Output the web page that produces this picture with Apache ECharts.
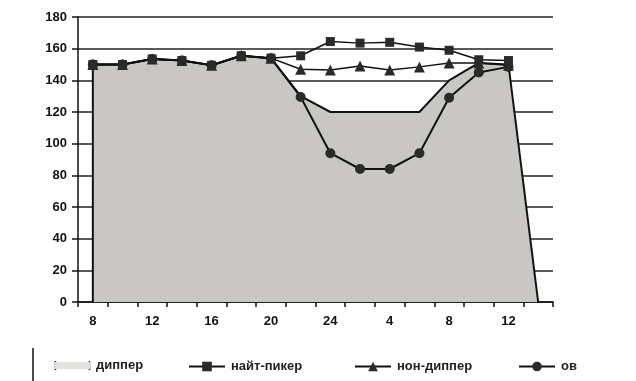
<!DOCTYPE html>
<html>
<head>
<meta charset="utf-8">
<script src="https://cdn.jsdelivr.net/npm/echarts@6/dist/echarts.min.js"></script>
<style>html,body{margin:0;padding:0;background:#fff}#c{width:636px;height:381px}</style>
</head>
<body>
<div id="c"></div>
<script>
// Categories (hours)
const hours = ['8','10','12','14','16','18','20','22','24','2','4','6','8','10','12','14'];
// Series values
const dipper      = [150,150,153.5,152.5,149.5,155.5,154,130,120,120,120,120,140,151,150,0];
const nightPeaker = [150,150,153.5,152.5,149.5,155.5,154,155.5,164.5,163.5,164,161,159,153,152.5,null];
const nonDipper   = [150,150,153.5,152.5,149.5,155.5,154,147,146.5,149,146.5,148.5,151,151,149.5,null];
const ov          = [150,150,153.5,152.5,149.5,155.5,154,129.5,94,84,84,94,129,145,148.5,null];
const seriesNames = ['диппер','найт-пикер','нон-диппер','ов'];

const FONT = 'Liberation Sans';
const chart = echarts.init(document.getElementById('c'), null, {renderer:'canvas'});

const dipperData = [[0,0]].concat(dipper.map((v,i)=>[i,v]));

const legendBase = {
  top: 360, padding: 0, itemWidth: 36, itemHeight: 12, itemGap: 0,
  textStyle: {fontFamily: FONT, fontSize: 13, fontWeight: 'bold', color: '#222', padding:[0,0,0,1]},
  selectedMode: false
};

chart.setOption({
  animation: false,
  backgroundColor: '#fff',
  grid: {left: 78, right: 83, top: 17, bottom: 79, containLabel: false},
  xAxis: {
    type: 'category', data: hours, boundaryGap: true,
    axisLine: {lineStyle: {color: '#111', width: 1.5}},
    axisTick: {show: true, interval: 0, length: 5, lineStyle: {color: '#111', width: 1.5}},
    axisLabel: {interval: 1, fontFamily: FONT, fontSize: 13, fontWeight: 'bold', color: '#111', margin: 13}
  },
  yAxis: {
    type: 'value', min: 0, max: 180, interval: 20,
    axisLine: {show: true, lineStyle: {color: '#111', width: 1.5}},
    axisTick: {show: true, length: 6, lineStyle: {color: '#111', width: 1.5}},
    axisLabel: {fontFamily: FONT, fontSize: 13, fontWeight: 'bold', color: '#111', margin: 11},
    splitLine: {show: true, lineStyle: {color: '#222', width: 1.5}}
  },
  legend: [
    Object.assign({}, legendBase, {left: 55, top: 359, itemWidth: 35, itemHeight: 7, data: [{name: seriesNames[0], icon: 'rect', itemStyle: {color: '#e4e2df', borderWidth: 0}}]}),
    Object.assign({}, legendBase, {left: 188, data: [seriesNames[1]]}),
    Object.assign({}, legendBase, {left: 354, data: [seriesNames[2]]}),
    Object.assign({}, legendBase, {left: 518, data: [seriesNames[3]]})
  ],
  graphic: [
    {type: 'line', shape: {x1: 33, y1: 348, x2: 33, y2: 381}, style: {stroke: '#111', lineWidth: 1.5}},
    {type: 'line', shape: {x1: 55.5, y1: 361, x2: 55.5, y2: 370}, style: {stroke: '#111', lineWidth: 1.5}},
    {type: 'line', shape: {x1: 89.5, y1: 361, x2: 89.5, y2: 370}, style: {stroke: '#111', lineWidth: 1.5}}
  ],
  series: [
    {
      name: seriesNames[0], type: 'line', data: dipperData, symbol: 'none',
      lineStyle: {color: '#111', width: 2},
      itemStyle: {color: '#c9c7c4'},
      areaStyle: {color: '#c9c7c4', opacity: 1},
      z: 1
    },
    {
      name: seriesNames[3], type: 'line', data: ov, symbol: 'circle', symbolSize: 10,
      lineStyle: {color: '#111', width: 2}, itemStyle: {color: '#2a2a2a'}, z: 2
    },
    {
      name: seriesNames[2], type: 'line', data: nonDipper, symbol: 'triangle', symbolSize: 11,
      lineStyle: {color: '#111', width: 1.5}, itemStyle: {color: '#2a2a2a'}, z: 3
    },
    {
      name: seriesNames[1], type: 'line', data: nightPeaker, symbol: 'rect', symbolSize: 9,
      lineStyle: {color: '#111', width: 1.5}, itemStyle: {color: '#2a2a2a'}, z: 4
    }
  ]
});
</script>
</body>
</html>
